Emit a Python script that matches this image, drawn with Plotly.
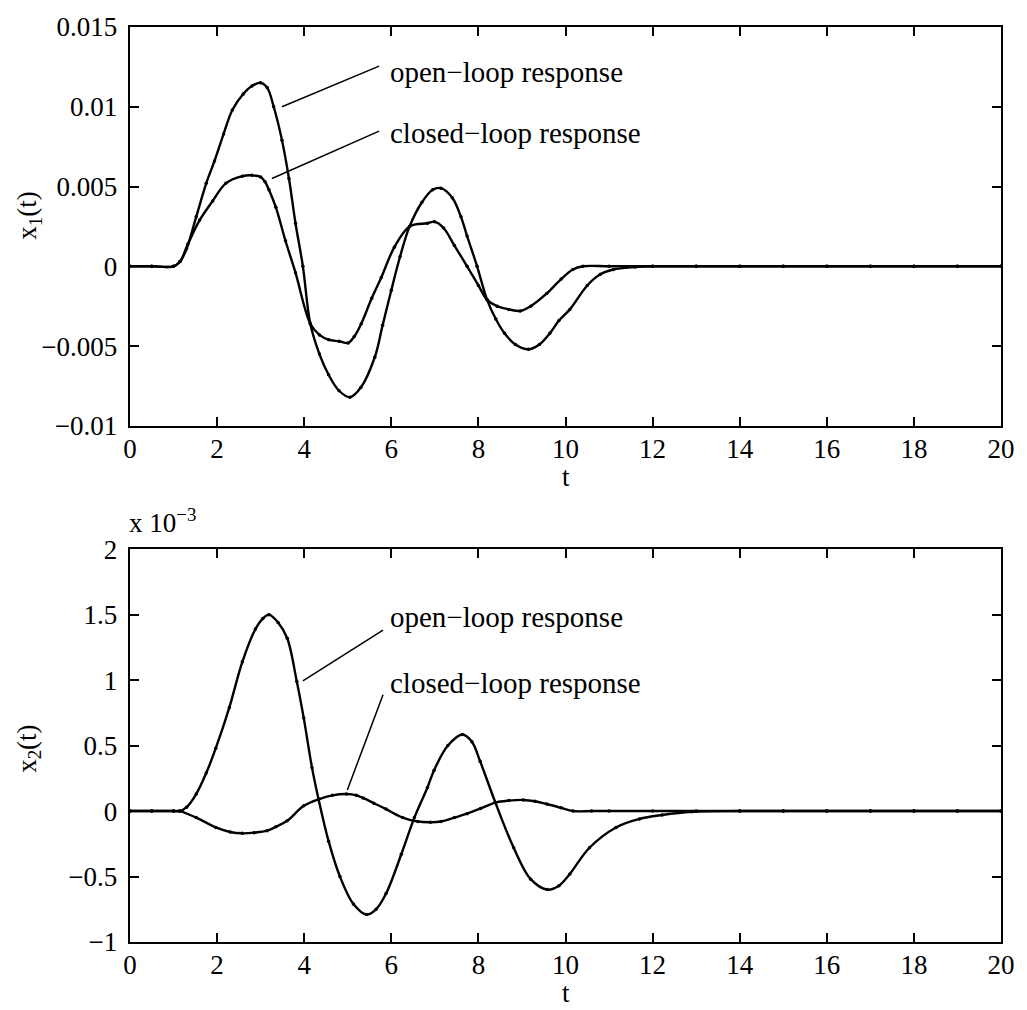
import plotly.graph_objects as go
from plotly.subplots import make_subplots

# ---------------- data ----------------
t_open1 = [0, 0.5, 1.0, 1.15, 1.3, 1.52, 1.75, 1.94, 2.15, 2.35, 2.6, 2.8, 3.0, 3.15, 3.3, 3.49,
           3.65, 3.8, 3.97, 4.14, 4.35, 4.56, 4.8, 5.05, 5.3, 5.62, 5.8, 6.0, 6.2, 6.42, 6.7,
           6.95, 7.14, 7.4, 7.6, 7.74, 7.97, 8.2, 8.4, 8.6, 8.85, 9.15, 9.4, 9.64, 9.85, 10.1,
           10.5, 10.8, 11.1, 11.6, 12, 13, 14, 15, 16, 17, 18, 19, 20]
x1_open = [0, 0, 0, 0.0003, 0.0011, 0.0031, 0.0052, 0.0066, 0.0083, 0.0098, 0.0108, 0.0113,
           0.0115, 0.0112, 0.0100, 0.0079, 0.0055, 0.0027, 0.0, -0.0036, -0.0055, -0.0068,
           -0.0078, -0.0082, -0.0076, -0.0057, -0.0037, -0.0015, 0.0006, 0.0025, 0.0040,
           0.0048, 0.0049, 0.0043, 0.0031, 0.0019, 0.0, -0.0021, -0.0033, -0.0042, -0.0049,
           -0.0052, -0.0049, -0.0042, -0.0034, -0.0027, -0.0012, -0.0005, -0.0002, -0.00005,
           0, 0, 0, 0, 0, 0, 0, 0, 0]

t_closed1 = [0, 0.5, 1.0, 1.15, 1.33, 1.6, 1.9, 2.2, 2.58, 2.8, 3.0, 3.1, 3.19, 3.35, 3.57,
             3.8, 4.14, 4.35, 4.56, 4.8, 5.01, 5.15, 5.31, 5.55, 5.77, 6.07, 6.42, 6.83, 6.99,
             7.2, 7.45, 7.74, 8.0, 8.2, 8.43, 8.7, 8.96, 9.2, 9.57, 9.9, 10.17, 10.4, 11, 12,
             13, 14, 15, 16, 17, 18, 19, 20]
x1_closed = [0, 0, 0, 0.0003, 0.0014, 0.0029, 0.0041, 0.0052, 0.00565, 0.0057, 0.0056, 0.0053,
             0.0048, 0.0037, 0.0016, -0.0004, -0.0036, -0.0043, -0.0046, -0.0047, -0.0048,
             -0.0044, -0.0036, -0.0020, -0.0007, 0.0012, 0.0025, 0.0027, 0.0028, 0.0024,
             0.0013, 0.0, -0.0012, -0.0021, -0.0025, -0.0027, -0.0028, -0.0025, -0.0017,
             -0.0008, -0.0002, 0.0, 0, 0, 0, 0, 0, 0, 0, 0, 0, 0]

t_open2 = [0, 0.5, 1.0, 1.14, 1.3, 1.52, 1.75, 1.97, 2.28, 2.58, 2.88, 3.05, 3.19, 3.4, 3.61,
           3.83, 3.99, 4.18, 4.33, 4.56, 4.82, 5.13, 5.43, 5.65, 5.88, 6.23, 6.53, 6.83, 6.98,
           7.3, 7.63, 7.85, 8.04, 8.39, 8.81, 9.2, 9.58, 9.85, 10.1, 10.55, 11.16, 11.7, 12.22,
           12.9, 14, 15, 16, 17, 18, 19, 20]
x2_open = [0, 0, 0, 0.0, 0.03e-3, 0.13e-3, 0.29e-3, 0.48e-3, 0.79e-3, 1.14e-3, 1.39e-3,
           1.47e-3, 1.50e-3, 1.44e-3, 1.32e-3, 0.99e-3, 0.71e-3, 0.33e-3, 0.09e-3, -0.23e-3,
           -0.50e-3, -0.71e-3, -0.79e-3, -0.75e-3, -0.63e-3, -0.33e-3, -0.05e-3, 0.18e-3,
           0.31e-3, 0.50e-3, 0.585e-3, 0.53e-3, 0.38e-3, 0.065e-3, -0.28e-3, -0.52e-3,
           -0.60e-3, -0.57e-3, -0.48e-3, -0.28e-3, -0.125e-3, -0.06e-3, -0.03e-3, -0.005e-3,
           0, 0, 0, 0, 0, 0, 0]

t_closed2 = [0, 0.5, 1.0, 1.14, 1.52, 1.97, 2.3, 2.58, 2.85, 3.15, 3.35, 3.61, 3.99, 4.33, 4.65,
             4.97, 5.2, 5.35, 5.6, 5.88, 6.26, 6.61, 6.9, 7.14, 7.45, 7.74, 8.05, 8.39, 8.7,
             9.03, 9.3, 9.57, 9.9, 10.17, 10.6, 11, 12, 13, 14, 15, 16, 17, 18, 19, 20]
x2_closed = [0, 0, 0, 0, -0.05e-3, -0.125e-3, -0.16e-3, -0.17e-3, -0.165e-3, -0.15e-3,
             -0.12e-3, -0.074e-3, 0.04e-3, 0.09e-3, 0.12e-3, 0.13e-3, 0.12e-3, 0.10e-3,
             0.06e-3, 0.015e-3, -0.05e-3, -0.08e-3, -0.085e-3, -0.08e-3, -0.05e-3, -0.02e-3,
             0.02e-3, 0.065e-3, 0.08e-3, 0.085e-3, 0.075e-3, 0.053e-3, 0.025e-3, 0.0, 0, 0, 0,
             0, 0, 0, 0, 0, 0, 0, 0]

x_ticks = [0, 2, 4, 6, 8, 10, 12, 14, 16, 18, 20]
y1_ticks = [-0.01, -0.005, 0, 0.005, 0.01, 0.015]
y1_ticktext = ["\u22120.01", "\u22120.005", "0", "0.005", "0.01", "0.015"]
y2_ticks = [-1e-3, -0.5e-3, 0, 0.5e-3, 1e-3, 1.5e-3, 2e-3]
y2_ticktext = ["\u22121", "\u22120.5", "0", "0.5", "1", "1.5", "2"]

label_open = "open\u2212loop response"
label_closed = "closed\u2212loop response"

# ---------------- figure ----------------
FONT = "Liberation Serif"
FS = 27
FA = 29
PAD = "\u2009"  # thin space: small gap between y tick labels and axis

fig = make_subplots(rows=2, cols=1, vertical_spacing=0.0)

def add_curve(t, y, row):
    fig.add_trace(go.Scatter(x=t, y=y, mode="lines+markers",
                             line=dict(color="black", width=2.4, shape="spline", smoothing=1.0),
                             marker=dict(color="black", size=3.5),
                             showlegend=False, hoverinfo="skip"), row=row, col=1)

add_curve(t_open1, x1_open, 1)
add_curve(t_closed1, x1_closed, 1)
add_curve(t_open2, x2_open, 2)
add_curve(t_closed2, x2_closed, 2)

axis_common = dict(showline=True, linecolor="black", linewidth=1.8, mirror="ticks",
                   ticks="inside", ticklen=9, tickwidth=1.5, tickcolor="black",
                   showgrid=False, zeroline=False,
                   tickfont=dict(family=FONT, size=FS, color="black"))

fig.update_xaxes(range=[0, 20], tickvals=x_ticks, ticklabelstandoff=-2, **axis_common)
fig.update_yaxes(**axis_common)
fig.update_yaxes(range=[-0.01, 0.015], tickvals=y1_ticks,
                 ticktext=[s + PAD for s in y1_ticktext], row=1, col=1)
fig.update_yaxes(range=[-1e-3, 2e-3], tickvals=y2_ticks,
                 ticktext=[s + PAD for s in y2_ticktext], row=2, col=1)

# domains (pixel-matched)
fig.update_layout(
    xaxis=dict(domain=[0, 1]), xaxis2=dict(domain=[0, 1]),
    yaxis=dict(domain=[0.5641, 1.0]), yaxis2=dict(domain=[0.0, 0.4293]),
)

annotations = []
# leader lines + labels, top
fig.add_shape(type="line", x0=3.49, y0=0.0100, x1=5.72, y1=0.01255,
              line=dict(color="black", width=1.5), xref="x", yref="y")
fig.add_shape(type="line", x0=3.26, y0=0.0055, x1=5.72, y1=0.00847,
              line=dict(color="black", width=1.5), xref="x", yref="y")
annotations.append(dict(x=5.93, y=0.01215, xref="x", yref="y", text=label_open,
                        showarrow=False, xanchor="left", yanchor="middle",
                        font=dict(family=FONT, size=FA, color="black")))
annotations.append(dict(x=5.93, y=0.00835, xref="x", yref="y", text=label_closed,
                        showarrow=False, xanchor="left", yanchor="middle",
                        font=dict(family=FONT, size=FA, color="black")))
# leader lines + labels, bottom
fig.add_shape(type="line", x0=3.97, y0=0.995e-3, x1=5.81, y1=1.382e-3,
              line=dict(color="black", width=1.5), xref="x2", yref="y2")
fig.add_shape(type="line", x0=4.99, y0=0.160e-3, x1=5.81, y1=0.889e-3,
              line=dict(color="black", width=1.5), xref="x2", yref="y2")
annotations.append(dict(x=5.93, y=1.48e-3, xref="x2", yref="y2", text=label_open,
                        showarrow=False, xanchor="left", yanchor="middle",
                        font=dict(family=FONT, size=FA, color="black")))
annotations.append(dict(x=5.93, y=0.98e-3, xref="x2", yref="y2", text=label_closed,
                        showarrow=False, xanchor="left", yanchor="middle",
                        font=dict(family=FONT, size=FA, color="black")))

# axis titles
W, H = 1027, 1010
ML, MR, MT, MB = 130, 19, 22, 68
PW, PH = W - ML - MR, H - MT - MB

def px(xp):
    return (xp - ML) / PW

def py(yp):
    return (H - MB - yp) / PH

annotations.append(dict(x=px(569), y=py(474), xref="paper", yref="paper", text="t",
                        showarrow=False, xanchor="center", yanchor="middle",
                        font=dict(family=FONT, size=FS, color="black")))
annotations.append(dict(x=px(569), y=py(993), xref="paper", yref="paper", text="t",
                        showarrow=False, xanchor="center", yanchor="middle",
                        font=dict(family=FONT, size=FS, color="black")))
annotations.append(dict(x=px(28), y=py(212), xref="paper", yref="paper",
                        text="x<sub>1</sub>(t)", textangle=-90,
                        showarrow=False, xanchor="center", yanchor="middle",
                        font=dict(family=FONT, size=FS, color="black")))
annotations.append(dict(x=px(28), y=py(748), xref="paper", yref="paper",
                        text="x<sub>2</sub>(t)", textangle=-90,
                        showarrow=False, xanchor="center", yanchor="middle",
                        font=dict(family=FONT, size=FS, color="black")))
annotations.append(dict(x=px(127), y=py(538), xref="paper", yref="paper",
                        text="x 10<sup>\u22123</sup>",
                        showarrow=False, xanchor="left", yanchor="bottom",
                        font=dict(family=FONT, size=FS, color="black")))

fig.update_layout(
    width=W, height=H,
    margin=dict(l=ML, r=MR, t=MT, b=MB, pad=0),
    paper_bgcolor="white", plot_bgcolor="white",
    showlegend=False,
    annotations=annotations,
    font=dict(family=FONT, size=FS, color="black"),
)

fig.write_html("out.html")
